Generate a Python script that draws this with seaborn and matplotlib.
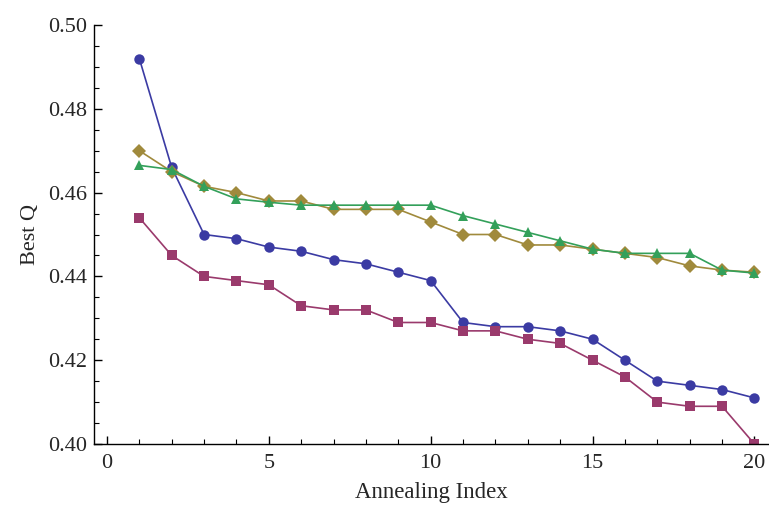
import matplotlib
matplotlib.use("Agg")
import matplotlib.pyplot as plt
import seaborn as sns
import pandas as pd
from matplotlib.ticker import MultipleLocator

annealing_index = list(range(1, 21))
series_names = ["A", "B", "C", "D"]
blue_q = [0.492, 0.466, 0.450, 0.449, 0.447, 0.446, 0.444, 0.443, 0.441, 0.439,
          0.429, 0.428, 0.428, 0.427, 0.425, 0.420, 0.415, 0.414, 0.413, 0.411]
magenta_q = [0.454, 0.445, 0.440, 0.439, 0.438, 0.433, 0.432, 0.432, 0.429, 0.429,
             0.427, 0.427, 0.425, 0.424, 0.420, 0.416, 0.410, 0.409, 0.409, 0.400]
gold_q = [0.470, 0.465, 0.4615, 0.460, 0.458, 0.458, 0.456, 0.456, 0.456, 0.453,
          0.450, 0.450, 0.4475, 0.4475, 0.4465, 0.4455, 0.4445, 0.4425, 0.4415, 0.441]
green_q = [0.4665, 0.4655, 0.4615, 0.4585, 0.4577, 0.457, 0.457, 0.457, 0.457, 0.457,
           0.4545, 0.4525, 0.4505, 0.4485, 0.4465, 0.4455, 0.4455, 0.4455, 0.4415, 0.4408]

colors = ["#3b3ba3", "#9a3a6c", "#a08a3c", "#33a05a"]
markers = ["o", "s", "D", "^"]

frames = []
for name, vals in zip(series_names, [blue_q, magenta_q, gold_q, green_q]):
    frames.append(pd.DataFrame({"x": annealing_index, "y": vals, "series": name}))
df = pd.concat(frames, ignore_index=True)

sns.set_style("white")
plt.rcParams["font.family"] = ["Liberation Serif", "DejaVu Serif"]

fig = plt.figure(figsize=(7.69, 5.08), dpi=100)
ax = fig.add_axes([94 / 769, 64 / 508, (769 - 94) / 769, (444 - 25) / 508])

sns.lineplot(data=df, x="x", y="y", hue="series", style="series",
             palette=colors, markers=markers, dashes=False, ax=ax,
             linewidth=1.2, markersize=7.5, markeredgewidth=0, legend=False)

ax.set_xlim(-0.4, 20.45)
ax.set_ylim(0.40, 0.50)
ax.xaxis.set_major_locator(MultipleLocator(5))
ax.xaxis.set_minor_locator(MultipleLocator(1))
ax.yaxis.set_major_locator(MultipleLocator(0.02))
ax.yaxis.set_minor_locator(MultipleLocator(0.005))
ax.yaxis.set_major_formatter(matplotlib.ticker.FormatStrFormatter("%.2f"))

for s in ["top", "right"]:
    ax.spines[s].set_visible(False)
for s in ["left", "bottom"]:
    ax.spines[s].set_color("black")
    ax.spines[s].set_linewidth(1.0)

ax.tick_params(which="both", direction="in", color="black", left=True, bottom=True)
ax.tick_params(which="major", length=6, width=1.0, labelsize=16)
ax.tick_params(axis="x", which="major", pad=7)
ax.tick_params(axis="y", which="major", pad=5)
ax.tick_params(which="minor", length=3.5, width=0.8)

ax.set_xlabel("Annealing Index", fontsize=16.5, labelpad=7)
ax.set_ylabel("Best Q", fontsize=16, labelpad=6)

fig.savefig("out.png", dpi=100)
